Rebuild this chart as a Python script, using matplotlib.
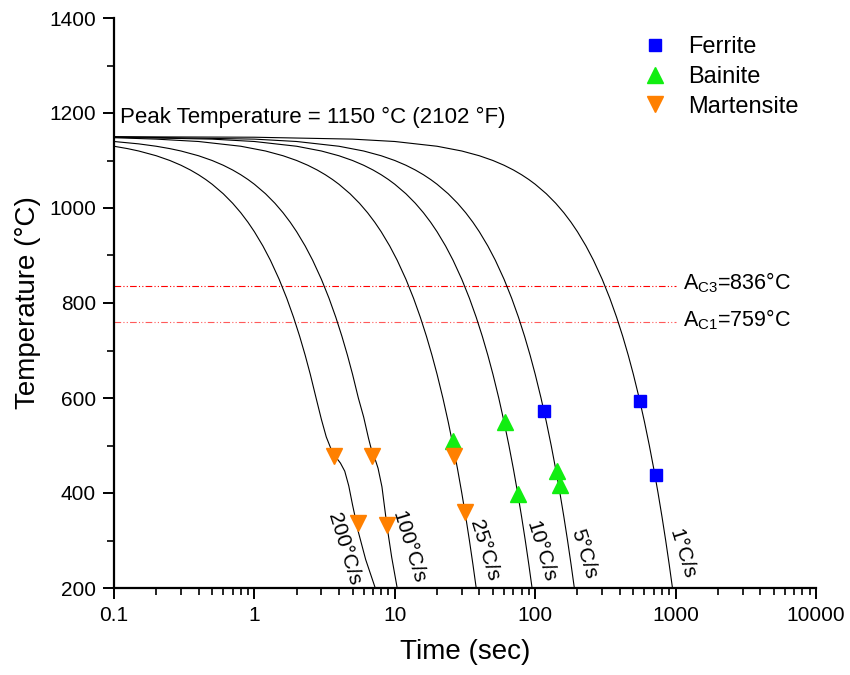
import matplotlib
matplotlib.use("Agg")
import matplotlib.pyplot as plt
from matplotlib.ticker import LogLocator, FixedLocator, MultipleLocator, NullFormatter

plt.rcParams['font.family'] = ['Liberation Sans', 'DejaVu Sans']
plt.rcParams['mathtext.fontset'] = 'custom'
plt.rcParams['mathtext.rm'] = 'Liberation Sans'
plt.rcParams['mathtext.it'] = 'Liberation Sans:italic'

# ---- cooling curves (time in s, temperature in °C) ----
t_1 = [0.1, 1, 5, 10, 20, 30, 40, 50, 60, 70, 80, 90, 100, 120, 140, 160, 180, 200, 230, 260,
       300, 340, 380, 420, 460, 500, 550, 600, 650, 700, 750, 800, 850, 900, 950]
T_1 = [1150, 1149, 1145, 1140, 1130, 1120, 1110, 1100, 1090, 1080, 1070, 1060, 1050, 1030, 1010,
       990, 970, 950, 920, 890, 850, 810, 770, 730, 690, 650, 600, 550, 500, 450, 400, 350, 300, 250, 200]

t_5 = [0.1, 1, 2, 4, 6, 8, 10, 12, 14, 16, 18, 20, 24, 28, 32, 36, 40, 46, 52, 60, 68, 76, 84,
       92, 100, 110, 120, 130, 140, 150, 160, 170, 180, 190]
T_5 = [1150, 1145, 1140, 1130, 1120, 1110, 1100, 1090, 1080, 1070, 1060, 1050, 1030, 1010, 990,
       970, 950, 920, 890, 850, 810, 770, 730, 690, 650, 600, 550, 500, 450, 400, 350, 300, 250, 200]

t_10 = [0.1, 0.5, 1, 2, 3, 4, 5, 6, 7, 8, 9, 10, 12, 14, 16, 18, 20, 23, 26, 30, 34, 38, 42, 46,
        50, 55, 60, 65, 70, 75, 80, 85, 90, 95]
T_10 = [1149, 1145, 1140, 1130, 1120, 1110, 1100, 1090, 1080, 1070, 1060, 1050, 1030, 1010, 990,
        970, 950, 920, 890, 850, 810, 770, 730, 690, 650, 600, 550, 500, 450, 400, 350, 300, 250, 200]

t_25 = [0.1, 0.2, 0.4, 0.8, 1.2, 1.6, 2, 2.4, 2.8, 3.2, 3.6, 4, 4.8, 5.6, 6.4, 7.2, 8, 9.2, 10.4,
        12, 13.6, 15.2, 16.8, 18.4, 20, 22, 24, 26, 28, 30, 32, 34, 36, 38]
T_25 = [1148, 1145, 1140, 1130, 1120, 1110, 1100, 1090, 1080, 1070, 1060, 1050, 1030, 1010, 990,
        970, 950, 920, 890, 850, 810, 770, 730, 690, 650, 600, 550, 500, 450, 400, 350, 300, 250, 200]

t_100 = [0.1, 0.15, 0.2, 0.25, 0.3, 0.4, 0.5, 0.6, 0.7, 0.8, 0.9, 1.0, 1.2, 1.4, 1.6, 1.8, 2.0,
         2.3, 2.6, 3.0, 3.4, 3.8, 4.2, 4.6, 5.0, 5.5, 6.0, 6.5, 7.0, 7.3, 7.6, 8.1, 8.8, 9.5, 10.4]
T_100 = [1140, 1135, 1130, 1125, 1120, 1110, 1100, 1090, 1080, 1070, 1060, 1050, 1030, 1010, 990,
         970, 950, 920, 890, 850, 810, 770, 730, 690, 650, 600, 560, 515, 478, 468, 452, 413, 330, 265, 200]

t_200 = [0.1, 0.125, 0.15, 0.2, 0.25, 0.3, 0.35, 0.4, 0.45, 0.5, 0.6, 0.7, 0.8, 0.9, 1.0, 1.15,
         1.3, 1.5, 1.7, 1.9, 2.1, 2.3, 2.5, 2.75, 3.0, 3.25, 3.5, 3.75, 4.1, 4.4, 4.7, 5.0, 5.5, 6.2, 7.2]
T_200 = [1130, 1125, 1120, 1110, 1100, 1090, 1080, 1070, 1060, 1050, 1030, 1010, 990, 970, 950,
         920, 890, 850, 810, 770, 730, 690, 650, 600, 555, 518, 494, 478, 463, 446, 415, 375, 318, 260, 203]

curve_times = [t_1, t_5, t_10, t_25, t_100, t_200]
curve_temps = [T_1, T_5, T_10, T_25, T_100, T_200]

# ---- curve labels ----
rate_labels = ["1°C/s", "5°C/s", "10°C/s", "25°C/s", "100°C/s", "200°C/s"]
rate_label_t = [1112, 223, 110, 43.2, 12.6, 4.35]
rate_label_T = [272, 272, 276, 280, 286, 282]

# ---- phase points ----
ferrite_t = [116, 557, 721]
ferrite_T = [573, 594, 438]
bainite_t = [25.8, 60.9, 75.8, 142, 149]
bainite_T = [510, 550, 397, 447, 417]
martensite_t = [3.71, 5.50, 6.9, 8.84, 26.5, 31.6]
martensite_T = [478, 336, 478, 333, 478, 359]

# ---- critical temperatures ----
ac_values = [836, 759]
ac_labels = ["A$_{\\mathrm{C3}}$=836°C", "A$_{\\mathrm{C1}}$=759°C"]
ac_colors = ["#ff0000", "#ff5a5a"]
peak_text = "Peak Temperature = 1150 °C (2102 °F)"

fig = plt.figure(figsize=(8.5, 6.75), dpi=100)
ax = fig.add_axes([114/850, 1-588/675, 702/850, 570/675])

for tt, TT in zip(curve_times, curve_temps):
    ax.plot(tt, TT, color='black', lw=0.8, zorder=2)

for val, col in zip(ac_values, ac_colors):
    ax.plot([0.1, 1000], [val, val], color=col, lw=0.8,
            linestyle=(0, (6, 2, 1, 2, 1, 2)), zorder=1)
for val, lab in zip(ac_values, ac_labels):
    ax.text(1130, val + 6, lab, fontsize=15.5, ha='left', va='center')

ax.plot(ferrite_t, ferrite_T, 's', color='#0000ff', ms=9, mec='#0000ff', label='Ferrite', zorder=3)
ax.plot(bainite_t, bainite_T, '^', color='#11ee11', ms=11, mec='#11ee11', label='Bainite', zorder=3)
ax.plot(martensite_t, martensite_T, 'v', color='#ff8000', ms=11, mec='#ff8000', label='Martensite', zorder=3)

for lab, xt, yt in zip(rate_labels, rate_label_t, rate_label_T):
    ax.text(xt, yt, lab, fontsize=15, rotation=-73, rotation_mode='anchor',
            ha='center', va='center')

ax.text(0.11, 1190, peak_text, fontsize=16, ha='left', va='center')

ax.set_xscale('log')
ax.set_xlim(0.1, 10000)
ax.set_ylim(200, 1400)
ax.xaxis.set_major_locator(FixedLocator([0.1, 1, 10, 100, 1000, 10000]))
ax.set_xticklabels(["0.1", "1", "10", "100", "1000", "10000"])
ax.xaxis.set_minor_locator(LogLocator(base=10, subs=range(2, 10)))
ax.xaxis.set_minor_formatter(NullFormatter())
ax.yaxis.set_major_locator(MultipleLocator(200))
ax.yaxis.set_minor_locator(MultipleLocator(100))

for s in ['top', 'right']:
    ax.spines[s].set_visible(False)
for s in ['left', 'bottom']:
    ax.spines[s].set_linewidth(1.6)
ax.tick_params(which='major', direction='out', length=8, width=1.4, labelsize=15, pad=5)
ax.tick_params(which='minor', direction='out', length=5, width=1.2)

ax.set_xlabel("Time (sec)", fontsize=20, labelpad=10)
ax.set_ylabel("Temperature (°C)", fontsize=20, labelpad=6)

ax.legend(loc='upper left', bbox_to_anchor=(0.740, 0.985), frameon=False, fontsize=17,
          handlelength=1.0, handletextpad=0.9, labelspacing=0.33, borderaxespad=0.0)

fig.savefig("out.png", dpi=100)
